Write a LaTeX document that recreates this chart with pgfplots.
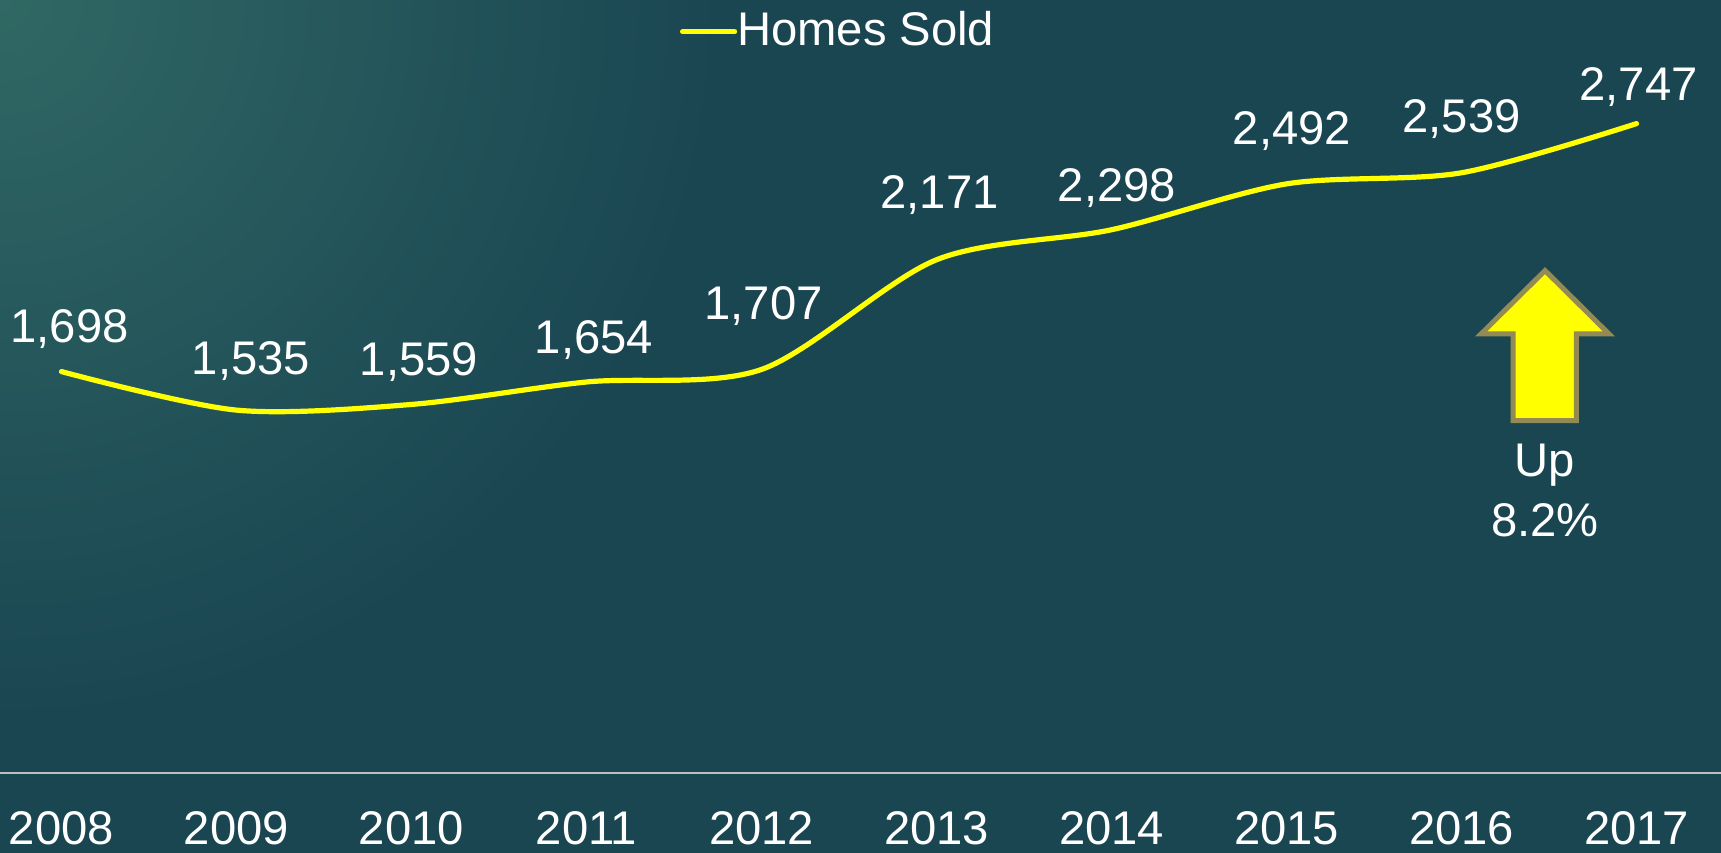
\documentclass[border=0pt]{standalone}
\usepackage{fontspec}
\setmainfont{Liberation Sans}
\usepackage{pgfplots}
\usepackage{pgfplotstable}
\pgfplotsset{compat=1.18}
\definecolor{bgc}{RGB}{26,70,82}
\definecolor{cornerc}{RGB}{48,104,100}
\definecolor{arrowedge}{RGB}{148,138,84}
\definecolor{axgray}{RGB}{191,191,191}
\definecolor{yel}{RGB}{255,255,0}
\newcommand{\fs}{\fontsize{11.8pt}{14pt}\selectfont}
\pgfplotstableread{
x y dx dy
0 1698 8 29
1 1535 14.5 36
2 1559 7.5 28.5
3 1654 7.5 28
4 1707 2 49.5
5 2171 3 51
6 2298 5.5 28.5
7 2492 5.5 39
8 2539 0 40
9 2747 2 23.5
}\homes
\begin{document}
\begin{tikzpicture}[font=\fs]
\path[use as bounding box] (0,0) rectangle (430.25pt,213.25pt);
\fill[bgc] (0,0) rectangle (430.25pt,213.25pt);
\begin{scope}
\clip (0,0) rectangle (430.25pt,213.25pt);
\shade[inner color=cornerc, outer color=bgc] (0pt,213.25pt) circle (180pt);
\end{scope}
\begin{axis}[
  at={(0pt,20pt)}, anchor=south west,
  scale only axis, width=430.25pt, height=177.3pt,
  xmin=-0.3514, xmax=9.483, ymin=0, ymax=3000,
  axis x line*=bottom, axis y line=none,
  x axis line style={-, draw=axgray, line width=0.35pt},
  xtick={0,...,9},
  xticklabels={2008,2009,2010,2011,2012,2013,2014,2015,2016,2017},
  major tick length=0pt,
  xticklabel style={anchor=base, yshift=-18pt, font=\fs, text=white},
  ytick=\empty,
  clip=false,
  /pgf/number format/1000 sep={,},
  /pgf/number format/assume math mode=true,
  legend style={draw=none, fill=none, inner sep=0pt, outer sep=0pt,
    nodes={inner sep=0pt, text=white, font=\fs},
    at={(axis description cs:0.3951,1)}, anchor=west, yshift=8pt,
    /tikz/every even column/.style={column sep=1.3pt}},
  legend image code/.code={\draw[#1, line cap=round] (0pt,0pt) -- (13pt,0pt);},
]
\addplot[color=yel, line width=1.3pt, smooth, line cap=round] table[x=x, y=y] {\homes};
\addlegendentry{Homes Sold}
\addplot[forget plot, draw=none, mark=none,
  nodes near coords,
  visualization depends on={\thisrow{dx}\as\dx},
  visualization depends on={\thisrow{dy}\as\dy},
  every node near coord/.append style={anchor=base, xshift={0.25*\dx}, yshift={0.25*\dy}, font=\fs, text=white, inner sep=0pt}
] table[x=x, y=y] {\homes};
\end{axis}
\draw[line width=1.25pt, arrowedge, fill=yel, line join=miter]
  (386.25pt,145.6pt) -- (402.25pt,129.75pt) -- (394.1pt,129.75pt) -- (394.1pt,108.1pt)
  -- (378.3pt,108.1pt) -- (378.3pt,129.75pt) -- (370.25pt,129.75pt) -- cycle;
\node[anchor=base, text=white, inner sep=0pt] at (386.25pt,94pt) {Up};
\node[anchor=base, text=white, inner sep=0pt] at (386.25pt,79pt) {8.2\%};
\end{tikzpicture}
\end{document}
